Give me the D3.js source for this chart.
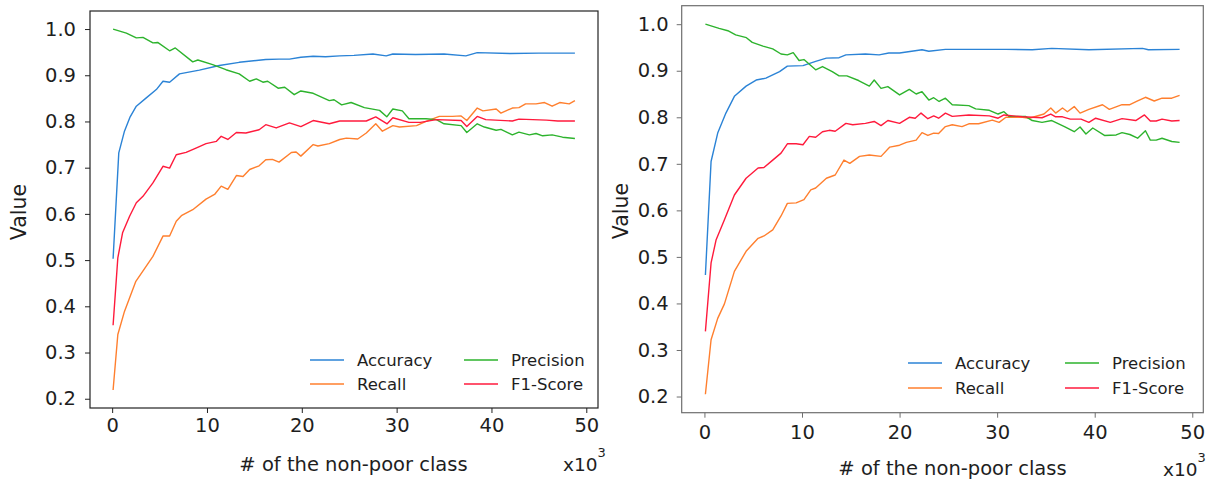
<!DOCTYPE html>
<html>
<head>
<meta charset="utf-8">
<script src="https://cdn.jsdelivr.net/npm/d3@7"></script>
<style>
  html, body { margin: 0; padding: 0; background: #fff; }
  svg { display: block; font-family: "DejaVu Sans", sans-serif; }
</style>
</head>
<body>
<svg id="chart" width="1214" height="481"></svg>
<script>
// ---------- DATA (x in thousands, value) ----------
const seriesNames = ["Accuracy", "Recall", "Precision", "F1-Score"];
const xTicks = [0, 10, 20, 30, 40, 50];
const yTicks = [0.2, 0.3, 0.4, 0.5, 0.6, 0.7, 0.8, 0.9, 1.0];

const leftAccuracy = [[0.1,0.503],[0.7,0.732],[1.3,0.779],[1.9,0.81],[2.55,0.833],[3.6,0.851],[4.66,0.869],[5.36,0.887],[6.06,0.885],[7.1,0.903],[9.2,0.911],[11.3,0.921],[13.4,0.928],[16.2,0.934],[17.6,0.935],[18.7,0.935],[19.9,0.939],[21.2,0.941],[22.5,0.940],[24.0,0.942],[25.5,0.943],[27.5,0.946],[28.9,0.942],[29.6,0.946],[32.0,0.945],[35.0,0.946],[37.3,0.942],[38.5,0.949],[42.0,0.947],[45.0,0.948],[48.8,0.948]];
const leftRecall = [[0.1,0.219],[0.6,0.339],[1.3,0.389],[2.5,0.454],[4.3,0.508],[5.36,0.552],[6.06,0.552],[6.76,0.584],[7.3,0.596],[8.5,0.609],[9.9,0.632],[10.8,0.642],[11.5,0.660],[12.2,0.653],[13.1,0.683],[13.8,0.681],[14.5,0.696],[15.5,0.704],[16.2,0.717],[16.9,0.718],[17.6,0.712],[18.9,0.733],[19.4,0.734],[19.9,0.725],[21.2,0.750],[21.7,0.747],[22.9,0.752],[24.0,0.761],[24.7,0.764],[25.9,0.762],[26.8,0.775],[27.8,0.795],[28.5,0.779],[29.6,0.791],[30.3,0.788],[32.1,0.791],[33.1,0.800],[34.5,0.811],[35.9,0.811],[36.8,0.812],[37.4,0.802],[38.5,0.829],[39.1,0.823],[40.5,0.827],[41.0,0.818],[42.2,0.829],[42.9,0.830],[43.6,0.838],[44.7,0.838],[45.6,0.841],[46.4,0.833],[47.2,0.841],[48.2,0.838],[48.8,0.845]];
const leftPrecision = [[0.1,1.0],[1.5,0.991],[2.55,0.981],[3.25,0.982],[4.3,0.970],[4.8,0.971],[6.06,0.953],[6.66,0.959],[8.5,0.929],[9.04,0.933],[10.6,0.923],[12.0,0.912],[13.4,0.903],[14.5,0.887],[15.2,0.892],[15.9,0.885],[16.4,0.887],[17.5,0.872],[18.2,0.874],[19.2,0.858],[19.9,0.866],[21.2,0.861],[22.9,0.845],[23.4,0.847],[24.2,0.836],[25.2,0.841],[26.6,0.830],[28.2,0.824],[28.96,0.810],[29.6,0.827],[30.6,0.823],[31.3,0.806],[33.1,0.806],[34.2,0.804],[35.0,0.795],[36.8,0.791],[37.4,0.776],[38.5,0.795],[39.25,0.788],[40.5,0.781],[41.0,0.783],[42.2,0.771],[42.9,0.777],[44.0,0.771],[44.7,0.774],[45.4,0.769],[46.4,0.771],[47.5,0.766],[48.8,0.763]];
const leftF1 = [[0.1,0.359],[0.6,0.505],[1.1,0.559],[1.84,0.595],[2.55,0.624],[3.25,0.638],[4.3,0.667],[5.36,0.703],[6.06,0.699],[6.76,0.728],[7.8,0.733],[8.9,0.743],[9.9,0.752],[11.0,0.757],[11.5,0.768],[12.2,0.761],[13.1,0.776],[14.1,0.775],[15.5,0.782],[16.2,0.793],[17.3,0.786],[18.7,0.797],[19.9,0.789],[21.2,0.802],[22.9,0.795],[24.0,0.801],[26.8,0.801],[27.8,0.810],[29.0,0.795],[29.6,0.808],[31.3,0.798],[32.5,0.798],[34.2,0.804],[36.8,0.802],[37.4,0.789],[38.5,0.811],[39.4,0.804],[42.2,0.801],[42.9,0.805],[45.8,0.803],[47.0,0.801],[48.8,0.801]];

const rightAccuracy = [[0.1,0.461],[0.68,0.705],[1.36,0.766],[2.2,0.809],[3.07,0.845],[4.27,0.867],[5.3,0.880],[6.3,0.884],[7.7,0.898],[8.5,0.910],[10.1,0.911],[11.4,0.920],[12.5,0.927],[13.8,0.928],[14.5,0.934],[16.5,0.936],[17.9,0.934],[18.9,0.938],[20.0,0.938],[22.3,0.945],[23.0,0.942],[24.7,0.946],[30.9,0.946],[33.6,0.945],[35.6,0.948],[39.4,0.945],[44.9,0.948],[45.5,0.945],[48.7,0.946]];
const rightRecall = [[0.1,0.205],[0.68,0.322],[1.36,0.368],[2.05,0.399],[3.07,0.469],[4.27,0.512],[5.5,0.540],[6.1,0.545],[7.0,0.558],[7.85,0.588],[8.5,0.615],[9.4,0.616],[10.2,0.623],[10.9,0.644],[11.4,0.648],[12.5,0.669],[13.4,0.676],[14.3,0.708],[14.9,0.701],[15.9,0.716],[16.9,0.719],[18.1,0.716],[19.0,0.736],[20.0,0.740],[20.7,0.746],[21.7,0.751],[22.3,0.767],[22.9,0.761],[23.5,0.766],[24.0,0.765],[24.7,0.780],[25.4,0.784],[26.4,0.780],[27.1,0.786],[28.1,0.786],[29.5,0.794],[30.2,0.789],[30.9,0.800],[32.6,0.800],[33.3,0.798],[34.8,0.807],[35.5,0.820],[36.0,0.809],[36.7,0.820],[37.2,0.812],[37.9,0.823],[38.5,0.809],[39.4,0.817],[40.8,0.827],[41.5,0.817],[42.8,0.827],[43.6,0.827],[44.4,0.835],[45.2,0.843],[46.1,0.835],[46.9,0.841],[47.9,0.841],[48.7,0.847]];
const rightPrecision = [[0.1,1.0],[1.5,0.991],[2.4,0.986],[3.2,0.977],[4.3,0.971],[4.9,0.961],[6.0,0.953],[7.0,0.947],[7.85,0.936],[8.5,0.934],[9.1,0.939],[9.7,0.922],[10.2,0.924],[11.4,0.902],[12.1,0.909],[13.1,0.898],[13.8,0.889],[14.6,0.889],[15.8,0.879],[16.9,0.867],[17.4,0.880],[18.1,0.862],[18.8,0.866],[20.0,0.848],[21.0,0.860],[21.7,0.850],[22.3,0.855],[23.0,0.837],[23.5,0.842],[24.05,0.834],[24.7,0.841],[25.4,0.827],[27.1,0.825],[27.8,0.818],[29.2,0.815],[30.1,0.807],[30.7,0.812],[31.2,0.802],[32.9,0.802],[33.6,0.793],[34.6,0.789],[35.6,0.793],[36.9,0.780],[37.9,0.769],[38.5,0.779],[39.1,0.764],[39.8,0.777],[41.0,0.761],[42.2,0.762],[42.8,0.767],[43.6,0.763],[44.4,0.755],[45.2,0.771],[45.7,0.751],[46.3,0.751],[46.9,0.755],[47.9,0.748],[48.7,0.746]];
const rightF1 = [[0.1,0.340],[0.68,0.487],[1.2,0.537],[2.05,0.580],[3.07,0.633],[4.27,0.669],[5.5,0.691],[6.1,0.692],[7.0,0.708],[7.85,0.723],[8.5,0.743],[9.4,0.743],[10.1,0.741],[10.75,0.759],[11.4,0.757],[12.1,0.769],[12.8,0.772],[13.4,0.770],[14.5,0.787],[15.2,0.784],[16.5,0.787],[17.4,0.791],[18.1,0.782],[18.8,0.793],[20.0,0.787],[21.0,0.800],[21.6,0.798],[22.2,0.809],[22.9,0.797],[23.5,0.803],[24.0,0.798],[24.7,0.809],[25.4,0.802],[27.1,0.805],[29.2,0.803],[30.1,0.798],[30.7,0.805],[32.6,0.801],[34.6,0.799],[35.5,0.807],[36.0,0.801],[36.7,0.801],[37.5,0.796],[38.6,0.796],[39.4,0.789],[40.1,0.798],[41.6,0.789],[42.8,0.797],[44.2,0.793],[45.1,0.805],[45.7,0.792],[46.3,0.792],[46.9,0.796],[47.9,0.792],[48.7,0.793]];

// ---------- STYLE / LAYOUT ----------
const colors = {"Accuracy": "#2b83d6", "Recall": "#ff7f2e", "Precision": "#2db32d", "F1-Score": "#ff1a3c"};

const panels = [
  {
    series: {"Accuracy": leftAccuracy, "Recall": leftRecall, "Precision": leftPrecision, "F1-Score": leftF1},
    box: {x0: 90, y0: 11, x1: 598, y1: 408},
    border: "#222", yPad: 9, xPad: 5,
    yLabel: {x: 19, y: 212}, xLabel: {x: 353.5, y: 471},
    mult: {x: 563, y: 471},
    legend: {cols: [310, 464], rows: [360, 384]}
  },
  {
    series: {"Accuracy": rightAccuracy, "Recall": rightRecall, "Precision": rightPrecision, "F1-Score": rightF1},
    box: {x0: 681.7, y0: 5.7, x1: 1203.3, y1: 412.7},
    border: "#6e6e6e", yPad: 8, xPad: 7,
    yLabel: {x: 621, y: 211}, xLabel: {x: 952.5, y: 475},
    mult: {x: 1163, y: 476},
    legend: {cols: [908, 1065], rows: [363, 388]}
  }
];

const svg = d3.select("#chart");

panels.forEach(p => {
  const all = seriesNames.flatMap(n => p.series[n]);
  const xe = d3.extent(all, d => d[0]);
  const ye = d3.extent(all, d => d[1]);
  const xm = (xe[1] - xe[0]) * 0.05, ym = (ye[1] - ye[0]) * 0.05;
  const x = d3.scaleLinear().domain([xe[0] - xm, xe[1] + xm]).range([p.box.x0, p.box.x1]);
  const y = d3.scaleLinear().domain([ye[0] - ym, ye[1] + ym]).range([p.box.y1, p.box.y0]);

  const g = svg.append("g");

  // lines
  const line = d3.line().x(d => x(d[0])).y(d => y(d[1]));
  seriesNames.forEach(n => {
    g.append("path").datum(p.series[n])
      .attr("d", line)
      .attr("fill", "none")
      .attr("stroke", colors[n])
      .attr("stroke-width", 1.4)
      .attr("stroke-linejoin", "round");
  });

  // axes
  const yAxis = d3.axisLeft(y).tickValues(yTicks).tickFormat(d3.format(".1f"))
    .tickSize(5).tickSizeOuter(0).tickPadding(p.yPad);
  const xAxis = d3.axisBottom(x).tickValues(xTicks).tickFormat(d3.format("d"))
    .tickSize(5).tickSizeOuter(0).tickPadding(p.xPad);

  const ya = g.append("g").attr("transform", `translate(${p.box.x0},0)`).call(yAxis);
  const xa = g.append("g").attr("transform", `translate(0,${p.box.y1})`).call(xAxis);
  [ya, xa].forEach(a => {
    a.select(".domain").remove();
    a.selectAll(".tick line").attr("stroke", p.border).attr("stroke-width", 1);
    a.selectAll(".tick text").attr("fill", "#1e1e1e").style("font-size", "19.5px")
      .style("font-family", "DejaVu Sans, sans-serif");
  });

  // frame
  g.append("rect")
    .attr("x", p.box.x0).attr("y", p.box.y0)
    .attr("width", p.box.x1 - p.box.x0).attr("height", p.box.y1 - p.box.y0)
    .attr("fill", "none").attr("stroke", p.border).attr("stroke-width", 1.2);

  // labels
  g.append("text")
    .attr("transform", `translate(${p.yLabel.x},${p.yLabel.y}) rotate(-90)`)
    .attr("text-anchor", "middle").attr("dominant-baseline", "central")
    .style("font-size", "20.5px").attr("fill", "#1e1e1e").text("Value");

  g.append("text")
    .attr("x", p.xLabel.x).attr("y", p.xLabel.y)
    .attr("text-anchor", "middle")
    .style("font-size", "19.5px").attr("fill", "#1e1e1e").text("# of the non-poor class");

  const m = g.append("text").attr("x", p.mult.x).attr("y", p.mult.y)
    .style("font-size", "18.5px").attr("fill", "#1e1e1e");
  m.append("tspan").text("x10");
  m.append("tspan").attr("dy", -14).style("font-size", "13px").text("3");

  // legend
  seriesNames.forEach((n, i) => {
    const col = i < 2 ? 0 : 1;
    const row = i % 2;
    const lx = p.legend.cols[col], ly = p.legend.rows[row];
    g.append("line").attr("x1", lx).attr("x2", lx + 34).attr("y1", ly).attr("y2", ly)
      .attr("stroke", colors[n]).attr("stroke-width", 1.4);
    g.append("text").attr("x", lx + 47).attr("y", ly)
      .attr("dominant-baseline", "central")
      .style("font-size", "16.5px").attr("fill", "#1e1e1e").text(n);
  });
});
</script>
</body>
</html>
